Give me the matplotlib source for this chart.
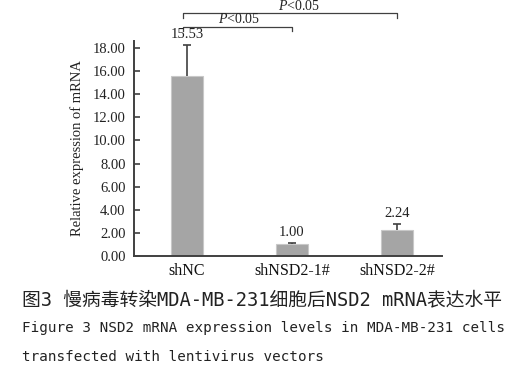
import numpy as np
import matplotlib
matplotlib.use("Agg")
import matplotlib.pyplot as plt

plt.rcParams['font.family'] = ['Liberation Serif']
plt.rcParams['mathtext.fontset'] = 'custom'
plt.rcParams['mathtext.rm'] = 'Liberation Serif'
plt.rcParams['mathtext.it'] = 'Liberation Serif:italic'

groups = ['shNC', 'shNSD2-1#', 'shNSD2-2#']
means = [15.53, 1.00, 2.24]
errs = [2.72, 0.15, 0.50]
value_labels = ['15.53', '1.00', '2.24']
yticks = np.arange(0, 20, 2)
ytick_labels = ['%.2f' % t for t in yticks]

caption1 = '图3 慢病毒转染MDA-MB-231细胞后NSD2 mRNA表达水平'
caption2 = 'Figure 3 NSD2 mRNA expression levels in MDA-MB-231 cells'
caption3 = 'transfected with lentivirus vectors'

fig = plt.figure(figsize=(5.19, 3.9), dpi=100)
ax = fig.add_axes([134 / 519, 1 - 256 / 390, 308 / 519, 215 / 390])

x = np.arange(len(groups))
tops = np.array(means) + np.array(errs)
ax.bar(x, means, width=0.31, color='#a5a5a5', edgecolor='#c8c8c8', linewidth=0.8, zorder=2)
# upper error bars only, cap at the top
ax.vlines(x, means, tops, color='#404040', lw=1.2, zorder=3)
ax.hlines(tops, x - 0.035, x + 0.035, color='#404040', lw=1.2, zorder=3)

for xi, t, lab in zip(x, tops, value_labels):
    ax.annotate(lab, (xi, t), xytext=(0, 3), textcoords='offset points',
                ha='center', va='bottom', fontsize=10.5, color='#222222')

# significance brackets
brackets = [(0, 1, 19.84), (0, 2, 21.0)]
for a, b, yb in brackets:
    ax.plot([x[a] - 0.04, x[a] - 0.04, x[b], x[b]], [yb - 0.4, yb, yb, yb - 0.4],
            color='#404040', lw=0.9, clip_on=False)
ax.text(0.5, 19.9, '$P$<0.05', ha='center', va='bottom', fontsize=10,
        color='#222222', clip_on=False)
ax.text(1.07, 21.02, '$P$<0.05', ha='center', va='bottom', fontsize=10,
        color='#222222', clip_on=False)

ax.set_xlim(-0.505, 2.43)
ax.set_ylim(0, 18.6)
ax.set_yticks(yticks)
ax.set_yticklabels(ytick_labels, fontsize=10.5, color='#222222')
ax.set_xticks(x)
ax.set_xticklabels(groups, fontsize=11.5, color='#111111')
ax.tick_params(axis='y', direction='in', length=4, width=1.2, colors='#404040',
               labelcolor='#222222', pad=6)
ax.tick_params(axis='x', length=0, pad=5)
ax.set_ylabel('Relative expression of mRNA', fontsize=10.5, color='#222222', labelpad=6)

for side in ['top', 'right']:
    ax.spines[side].set_visible(False)
for side in ['left', 'bottom']:
    ax.spines[side].set_color('#404040')
    ax.spines[side].set_linewidth(1.4)

cap_font = ['DejaVu Sans Mono', 'Noto Sans CJK SC']
fig.text(22 / 519, 1 - 300 / 390, caption1, family=cap_font, fontsize=13.5,
         va='center', ha='left', color='#222222')
fig.text(22 / 519, 1 - 328 / 390, caption2, family=cap_font, fontsize=10.3,
         va='center', ha='left', color='#222222')
fig.text(22 / 519, 1 - 357 / 390, caption3, family=cap_font, fontsize=10.3,
         va='center', ha='left', color='#222222')

fig.savefig('out.png', dpi=100)
